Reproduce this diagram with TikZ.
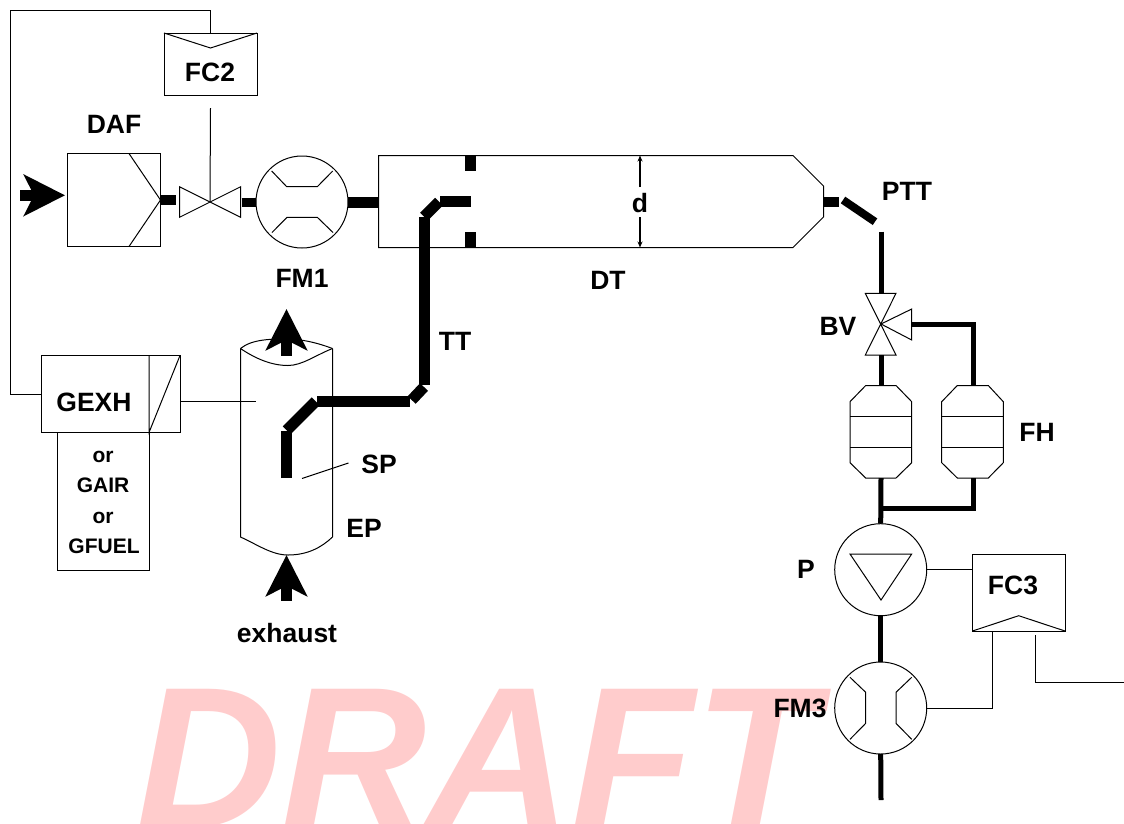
\documentclass[tikz,border=0pt]{standalone}
\usepackage{xcolor}
\usepackage{fontspec}
\setmainfont{Liberation Sans}
\usetikzlibrary{arrows.meta}
\definecolor{draftpink}{HTML}{FFCCCC}
\tikzset{
  thinline/.style={line width=1pt},
  pipe/.style={line width=5pt},
  widepipe/.style={line width=11pt},
  flowarrow/.style={line width=11pt,-{Stealth[length=41pt,width=41pt,inset=10pt]}},
  box/.style={draw,line width=1pt,inner sep=0pt,outer sep=0pt},
  roundel/.style={draw,circle,line width=1pt,minimum size=92pt,inner sep=0pt,outer sep=0pt},
  tag/.style={font=\fontsize{26.5}{30}\selectfont\bfseries,inner sep=0pt},
  smalltag/.style={font=\fontsize{21}{24}\selectfont\bfseries,inner sep=0pt}
}
\begin{document}
\begin{tikzpicture}[x=1pt,y=-1pt]
    \useasboundingbox (0,0) rectangle (1124,823);
    \begin{scope}
    \clip (0,0) rectangle (1124,823);
    \node[font=\fontsize{201}{201}\selectfont\bfseries\itshape,text=draftpink,inner sep=0pt,anchor=base] (draft) at (477,827) {DRAFT};
    \end{scope}

    % boxes
    \node[box,minimum width=93pt,minimum height=62pt] (fctwo) at (210.5,64) {};
    \node[box,minimum width=93pt,minimum height=93pt] (daf) at (114,200) {};
    \node[box,minimum width=138.5pt,minimum height=77pt] (gexh) at (110.75,394) {};
    \node[box,minimum width=92pt,minimum height=138pt,anchor=north] (gother) at (103,432.5) {};
    \node[box,minimum width=92.5pt,minimum height=77pt] (fcthree) at (1018.75,592.5) {};
    \draw[thinline] (164,33) -- (210.5,48) -- (257,33);
    \draw[thinline] (129,153.5) -- (160.5,200) -- (129,246.5);
    \draw[thinline] (149,355.5) -- (149,432.5) -- (180,355.5);
    \draw[thinline] (972.5,631) -- (1018.7,615.7) -- (1065,631);

    % flow meters and pump
    \node[roundel] (fmone) at (302,202) {};
    \node[roundel] (pump) at (880.7,569.7) {};
    \node[roundel] (fmthree) at (880.7,708) {};
    \draw[thinline] (271.7,171) -- (286.7,186.7) -- (317.3,186.7) -- (332.7,171);
    \draw[thinline] (272,232.5) -- (287,217.3) -- (317.3,217.3) -- (333,232.5);
    \draw[thinline] (850,554) -- (911.7,554) -- (881,600) -- cycle;
    \draw[thinline] (850,677.3) -- (865.7,692.3) -- (865.7,723.3) -- (850,739.3);
    \draw[thinline] (911.7,677.3) -- (896,692.3) -- (896,723.3) -- (911.7,739.3);

    % valves
    \coordinate (valveone) at (210,202);
    \coordinate (bv) at (881,324);
    \draw[thinline] (179.5,186.7) -- (240.7,217.3) -- (240.7,186.7) -- (179.5,217.3) -- cycle;
    \draw[thinline] (865.3,293.3) -- (896,293.3) -- (865.3,355) -- (896,355) -- cycle;
    \draw[thinline] (bv) -- (911.7,309) -- (911.7,340) -- cycle;

    % dilution tunnel
    \draw[thinline] (378.5,155.5) -- (793,155.5) -- (823.5,186) -- (823.5,217) -- (793,247.5) -- (378.5,247.5) -- cycle;
    \fill (465,155.5) rectangle (476,171);
    \fill (465,232) rectangle (476,247.5);

    % exhaust pipe
    \draw[thinline] (240.5,348.5) -- (240.5,537) .. controls (258,545) and (272,555) .. (288,555) .. controls (308,555) and (322,547) .. (332.5,537) -- (332.5,348.5);
    \draw[thinline] (240.5,348.5) .. controls (252,339) and (272,339) .. (286,339) .. controls (302,339) and (318,343) .. (332.5,348.5);
    \draw[thinline] (240.5,348.5) .. controls (256,359) and (272,365.5) .. (288,365.5) .. controls (302,365.5) and (316,355) .. (332.5,348.5);

    % filter holders
    \draw[thinline] (865.7,385.5) -- (896,385.5) -- (911.7,401.7) -- (911.7,462.7) -- (896,478) -- (865.7,478) -- (850,462.7) -- (850,401.7) -- cycle;
    \draw[thinline] (850,416.3) -- (911.7,416.3);
    \draw[thinline] (850,447) -- (911.7,447);
    \draw[thinline] (957.3,385.5) -- (988.3,385.5) -- (1003.3,401.7) -- (1003.3,462.7) -- (988.3,478) -- (957.3,478) -- (941.7,462.7) -- (941.7,401.7) -- cycle;
    \draw[thinline] (941.7,416.3) -- (1003.3,416.3);
    \draw[thinline] (941.7,447) -- (1003.3,447);

    % wide pipes
    \draw[flowarrow] (20,195.3) -- (65,195.3);
    \draw[flowarrow] (286.5,355.7) -- (286.5,309);
    \draw[flowarrow] (286.5,600.7) -- (286.5,555);
    \draw[line width=10pt] (daf.east |- 0,199.5) -- (176,199.5);
    \draw[line width=9pt] (241.5,202) -- (fmone.west);
    \draw[widepipe] (fmone.east) -- (378.5,202);
    \draw[widepipe] (286.5,478) -- (286.5,430.7);
    \draw[widepipe] (286.7,430.3) -- (315.7,401.3);
    \draw[widepipe] (317,401.7) -- (410,401.7);
    \draw[widepipe] (411.7,400) -- (424,387);
    \draw[widepipe] (424.3,385) -- (424.3,217);
    \draw[widepipe] (424,216.7) -- (439,201.7);
    \draw[widepipe] (440,201.5) -- (470.7,201.5);
    \draw[line width=10pt] (823.5,201.5) -- (839,201.5);
    \draw[line width=8pt] (843,200) -- (875,221.7);

    % sample pipes
    \draw[pipe] (881,231.7) -- (881,293.3);
    \draw[pipe] (881,355) -- (881,385.5);
    \draw[pipe] (911.7,324) -- (973.3,324) -- (973.3,385.5);
    \draw[pipe] (881,478) -- (pump.north);
    \draw[pipe] (881,508.3) -- (973.3,508.3) -- (973.3,478);
    \draw[pipe] (pump.south) -- (fmthree.north);
    \draw[pipe] (fmthree.south) -- (881,800);

    % signal lines
    \draw[thinline] (gexh.west) -- (10.7,394) -- (10.7,10) -- (210.5,10) -- (fctwo.north);
    \draw[thinline] (210.5,108) -- (valveone);
    \draw[thinline] (gexh.east |- 0,401.5) -- (256,401.5);
    \draw[thinline] (302,478.5) -- (348.5,463);
    \draw[thinline] (pump.east) -- (fcthree.west |- pump.east);
    \draw[thinline] (992.3,631) -- (992.3,708) -- (fmthree.east);
    \draw[thinline] (1035.3,635) -- (1035.3,682.7) -- (1124,682.7);

    % labels
    \node[tag] (fctwotext) at (210,72) {FC2};
    \node[tag] (daftext) at (114,124) {DAF};
    \node[tag] (fmonetext) at (302,278) {FM1};
    \node[tag] (gexhtext) at (94,402) {GEXH};
    \node[smalltag] (ora) at (103,457) {or};
    \node[smalltag] (gair) at (103,485) {GAIR};
    \node[smalltag] (orb) at (103,518) {or};
    \node[smalltag] (gfuel) at (104,546) {GFUEL};
    \node[tag] (sp) at (379,464) {SP};
    \node[tag] (ep) at (364,528) {EP};
    \node[tag] (tt) at (455,341) {TT};
    \node[tag] (exhaust) at (287,633) {exhaust};
    \node[tag] (dt) at (608,280) {DT};
    \node[tag] (d) at (640,203) {d};
    \node[tag] (ptt) at (907,191) {PTT};
    \node[tag] (bvtext) at (838,326) {BV};
    \node[tag] (fh) at (1037,432) {FH};
    \node[tag] (p) at (806,569) {P};
    \node[tag] (fcthreetext) at (1013,585) {FC3};
    \node[tag] (fmthreetext) at (800,708) {FM3};
    \coordinate (dtop) at (640,155.5);
    \coordinate (dbot) at (640,247.5);
    \draw[line width=1.5pt,-{Stealth[length=6pt,width=5pt]}] (640,187) -- (dtop);
    \draw[line width=1.5pt,-{Stealth[length=6pt,width=5pt]}] (640,217) -- (dbot);
\end{tikzpicture}
\end{document}
